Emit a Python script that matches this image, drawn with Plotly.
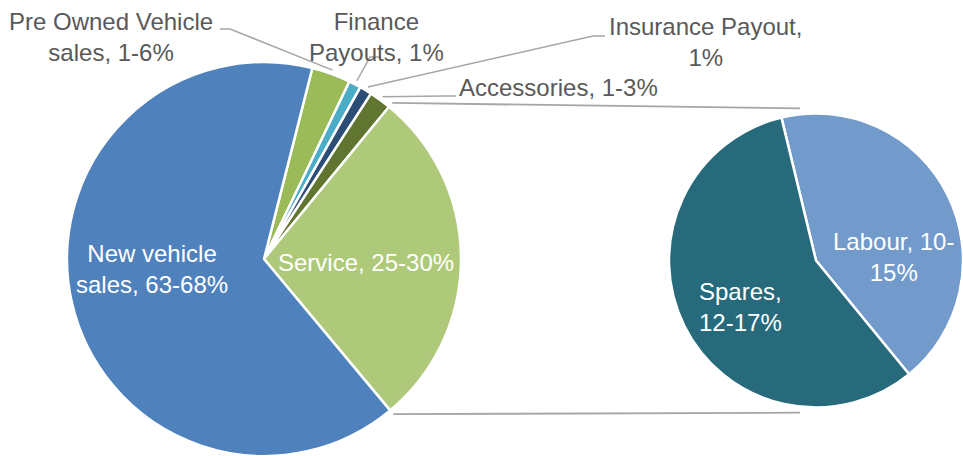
import math
import plotly.graph_objects as go

# Dealership revenue mix (% of revenue)
main_labels = ["Pre Owned Vehicle sales", "Finance Payouts", "Insurance Payout",
               "Accessories", "Service", "New vehicle sales"]
main_values = [3.2, 1.0, 1.0, 1.8, 28.0, 65.0]
main_text = ["Pre Owned Vehicle<br>sales, 1-6%", "Finance<br>Payouts, 1%",
             "Insurance Payout,<br>1%", "Accessories, 1-3%",
             "Service, 25-30%", "New vehicle<br>sales, 63-68%"]
main_colors = ["#9BBB59", "#4BACC6", "#2C4D75", "#5F7530", "#AFC97A", "#4F81BD"]

# Service split into its two parts
sub_labels = ["Labour", "Spares"]
sub_values = [12.0, 16.0]
sub_text = ["Labour, 10-<br>15%", "Spares,<br>12-17%"]
sub_colors = ["#729ACA", "#276A7C"]

# ---- layout geometry (pixels) ----
W, H = 963, 456
MAIN_C, MAIN_R, MAIN_ROT = (264.0, 259.0), 197.0, 14.2
SUB_C, SUB_R, SUB_ROT = (816.0, 260.5), 147.0, -13.6

FONT = "Liberation Sans, Arial, sans-serif"
GREY_TXT = "#595959"
LINE_COL = "#A6A6A6"


def domain(c, r):
    x0 = max(0.0, (c[0] - r) / W)
    x1 = min(1.0, (c[0] + r) / W)
    y0 = max(0.0, 1 - (c[1] + r) / H)
    y1 = min(1.0, 1 - (c[1] - r) / H)
    return dict(x=[x0, x1], y=[y0, y1])


def slice_angles(values, rotation):
    total = sum(values)
    out, a = [], rotation
    for v in values:
        b = a + 360.0 * v / total
        out.append((a, b))
        a = b
    return out


def polar(c, r, ang):
    t = math.radians(ang)
    return (c[0] + r * math.sin(t), c[1] - r * math.cos(t))


def paper(pt):
    return (pt[0] / W, 1 - pt[1] / H)


def path(points):
    pp = [paper(p) for p in points]
    return "M " + " L ".join(f"{x:.5f},{y:.5f}" for x, y in pp)


fig = go.Figure()
fig.add_trace(go.Pie(
    labels=main_labels, values=main_values, sort=False,
    direction="clockwise", rotation=MAIN_ROT,
    marker=dict(colors=main_colors, line=dict(color="white", width=2.5)),
    textinfo="none", showlegend=False, domain=domain(MAIN_C, MAIN_R),
))
fig.add_trace(go.Pie(
    labels=sub_labels, values=sub_values, sort=False,
    direction="clockwise", rotation=SUB_ROT,
    marker=dict(colors=sub_colors, line=dict(color="white", width=2.5)),
    textinfo="none", showlegend=False, domain=domain(SUB_C, SUB_R),
))

main_ang = slice_angles(main_values, MAIN_ROT)

# label centres (px) and colours
main_label_pos = [(111, 37), (376, 37), (705, 42), (558, 88), (366, 262), (152, 269)]
main_label_inside = [False, False, False, False, True, True]
sub_label_pos = [(893, 257), (740, 307)]

annotations = []
for txt, pos, inside in zip(main_text, main_label_pos, main_label_inside):
    x, y = paper(pos)
    annotations.append(dict(
        text=txt, x=x, y=y, xref="paper", yref="paper",
        xanchor="center", yanchor="middle", showarrow=False, align="center",
        font=dict(family=FONT, size=24, color="white" if inside else GREY_TXT),
    ))
for txt, pos in zip(sub_text, sub_label_pos):
    x, y = paper(pos)
    annotations.append(dict(
        text=txt, x=x, y=y, xref="paper", yref="paper",
        xanchor="center", yanchor="middle", showarrow=False, align="center",
        font=dict(family=FONT, size=24, color="white"),
    ))

# leader lines: label elbow points, ending at the slice mid-angle
leader_elbows = {
    0: [(220, 29), (230, 29)],
    1: [(381, 57), (370, 57)],
    2: [(605, 36), (593, 36)],
    3: [(456, 96), (444, 96)],
}
shapes = []
for i, elbow in leader_elbows.items():
    a, b = main_ang[i]
    tip = polar(MAIN_C, MAIN_R + 4, (a + b) / 2)
    shapes.append(dict(type="path", xref="paper", yref="paper",
                       path=path(elbow + [tip]),
                       line=dict(color=LINE_COL, width=1.5)))

# connectors from the Service slice edges to the breakdown pie
svc = main_labels.index("Service")
s0, s1 = main_ang[svc]
top_start = polar(MAIN_C, MAIN_R + 5, s0)
bot_start = polar(MAIN_C, MAIN_R + 5, s1)
top_end = polar(SUB_C, SUB_R + 6, -6)
bot_end = polar(SUB_C, SUB_R + 6, 186)
for p, q in [(top_start, top_end), (bot_start, bot_end)]:
    shapes.append(dict(type="path", xref="paper", yref="paper",
                       path=path([p, q]),
                       line=dict(color=LINE_COL, width=1.8)))

fig.update_layout(
    width=W, height=H,
    margin=dict(l=0, r=0, t=0, b=0),
    paper_bgcolor="white", plot_bgcolor="white",
    annotations=annotations, shapes=shapes,
    showlegend=False,
)

fig.write_html("out.html")
